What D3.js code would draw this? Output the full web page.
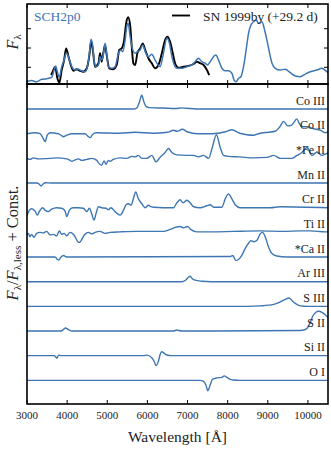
<!DOCTYPE html>
<html><head><meta charset="utf-8">
<script src="https://cdn.jsdelivr.net/npm/d3@7"></script>
<style>
body{margin:0;background:#fff}
svg{display:block}
text{font-family:"Liberation Serif","Times New Roman",serif;}
</style></head><body>
<svg id="c" width="331" height="450"></svg>
<script>
// ---------- DATA ----------
const xTicks = [3000,4000,5000,6000,7000,8000,9000,10000];
const topYTicks = [1,2,3];
const modelName = "SCH2p0";
const obsName = "SN 1999by (+29.2 d)";

// model spectrum (blue), [wavelength, flux]
const modelSpec = [[3000,0.25],[3115,0.31],[3240,0.25],[3365,0.38],[3490,0.41],[3615,0.48],[3675,0.86],[3715,1.07],[3755,0.77],[3805,0.48],[3865,1.03],[3925,1.38],[3975,1.73],[4015,1.64],[4070,1.29],[4140,0.95],[4200,0.86],[4280,0.90],[4360,0.82],[4445,0.77],[4505,1.03],[4555,1.73],[4595,2.45],[4640,2.07],[4670,1.38],[4720,1.03],[4780,1.12],[4820,1.55],[4860,1.38],[4900,1.64],[4945,2.24],[4985,1.73],[5030,1.03],[5110,0.95],[5195,1.03],[5280,1.73],[5335,1.90],[5385,1.81],[5445,2.41],[5485,3.10],[5520,3.28],[5570,2.59],[5625,1.98],[5695,1.73],[5750,1.81],[5820,1.90],[5885,2.16],[5945,1.81],[6025,1.55],[6110,1.67],[6190,1.38],[6315,1.03],[6400,1.73],[6485,2.50],[6550,2.24],[6610,1.55],[6690,1.03],[6733,0.95],[6858,0.95],[6983,1.03],[7108,1.12],[7190,1.29],[7272,1.47],[7357,1.29],[7440,1.21],[7500,1.12],[7564,1.29],[7646,1.55],[7706,1.64],[7772,1.38],[7855,0.95],[7938,0.82],[8020,0.82],[8105,0.69],[8160,0.34],[8210,0.25],[8270,0.43],[8330,0.51],[8395,1.03],[8460,1.90],[8520,2.76],[8580,3.19],[8645,3.36],[8710,3.45],[8770,3.28],[8853,3.36],[8920,2.93],[8978,2.41],[9045,1.73],[9105,1.21],[9185,0.95],[9310,0.86],[9435,0.90],[9560,0.72],[9685,0.55],[9810,0.51],[9935,0.65],[10060,0.77],[10225,0.86],[10350,0.95],[10475,0.77],[10530,0.72]];

// observed spectrum (black)
const obsSpec = [[3600,0.60],[3640,0.77],[3700,1.03],[3757,0.43],[3805,0.20],[3865,0.86],[3925,1.38],[3975,1.98],[4035,1.55],[4090,1.12],[4155,0.82],[4240,0.90],[4320,0.82],[4405,0.77],[4490,0.95],[4555,1.64],[4595,2.33],[4640,1.90],[4695,1.03],[4780,1.21],[4820,1.73],[4860,1.29],[4900,1.73],[4945,2.16],[4985,1.64],[5050,0.95],[5150,0.90],[5235,1.12],[5300,1.90],[5360,1.98],[5420,2.41],[5470,3.28],[5520,3.59],[5570,3.19],[5610,2.07],[5650,1.21],[5695,1.12],[5750,1.73],[5820,1.98],[5885,2.24],[5945,1.90],[6025,1.47],[6110,1.21],[6190,0.95],[6275,1.12],[6360,1.73],[6440,2.41],[6500,2.59],[6565,2.33],[6633,1.73],[6690,1.21],[6775,0.98],[6900,1.03],[7025,1.07],[7150,1.17],[7230,1.29],[7315,1.21],[7400,1.12],[7483,0.86],[7540,0.60]];

// ion contributions F/F_less - 1 (arbitrary units), top to bottom
const ionLabels = ["Co III","Co II","*Fe II","Mn II","Cr II","Ti II","*Ca II","Ar III","S III","S II","Si II","O I"];
const coIII = [[3000,0],[5650,0],[5735,1],[5800,7],[5860,14],[5915,7],[5970,2.5],[6050,1.5],[6400,1],[6700,0.5],[6860,1.2],[6960,0.8],[7300,0],[10500,0]];
const coII = [[3000,0],[3200,1],[3325,0],[3400,-4.5],[3450,-8],[3505,-1.5],[3575,1],[3780,0],[3865,-2],[3905,-3],[3990,-1.5],[4115,0],[4445,0],[4530,-3],[4570,-4],[4640,-0.5],[4720,1],[5300,0.5],[5700,1.5],[6150,0.5],[6500,1.5],[6650,3.5],[6735,2.5],[6870,4.5],[6990,2],[7250,0],[7600,0],[7950,2],[8105,4],[8300,0.5],[8480,-1],[8640,-1.5],[8770,0],[9000,1.5],[9185,2.5],[9300,7],[9395,12.5],[9495,8],[9580,8.5],[9660,12],[9720,15],[9790,10],[9850,7],[9975,7],[10140,5],[10310,3.5],[10430,1],[10515,2]];
const feII = [[3000,0],[3075,-1],[3160,0.5],[3280,-0.5],[3575,0],[3740,0.5],[3990,-0.5],[4070,-2],[4115,-3],[4200,-1.5],[4280,-0.5],[4365,-2],[4490,-1],[4615,0],[4740,-2],[4780,-4.5],[4860,-7],[4920,-2.5],[4970,-6],[5030,-2],[5070,-3],[5150,-1],[5320,0.5],[5485,0],[5610,2],[5695,1.5],[5775,3],[5860,0],[5985,0],[6110,3],[6215,-3.5],[6315,1],[6440,6],[6525,10],[6610,6],[6735,3.5],[6983,3],[7150,3],[7272,1.5],[7400,3],[7525,0],[7610,10],[7720,24],[7815,11],[7900,3],[8020,2],[8310,1.5],[8645,0.5],[8978,1],[9145,3],[9310,0],[9600,0],[9725,3],[9850,6],[9975,11],[10100,3],[10225,6.5],[10350,3],[10475,5],[10515,6]];
const mnII = [[3000,0],[3250,0],[3300,-1],[3350,-3],[3400,-1],[3460,0.3],[3600,0],[10500,0]];
const crII = [[2990,-9],[3060,-2.5],[3115,-1],[3200,-3.5],[3260,-7.5],[3305,-4],[3390,0],[3450,-2.5],[3530,-4],[3615,-1.5],[3740,0],[3865,-0.5],[3950,-3.5],[3990,-9],[4055,-2.5],[4140,0],[4280,0],[4405,-0.5],[4490,-4],[4555,-0.5],[4615,-6.5],[4670,-12.5],[4720,-6],[4780,1],[4860,0],[4970,-0.5],[5030,-2],[5090,0],[5195,-4],[5320,-7.5],[5405,-2.5],[5470,3],[5530,4],[5595,2.5],[5650,9],[5710,16],[5775,9],[5860,4],[5945,0],[6025,2.5],[6085,1],[6150,0.5],[6400,0],[6650,0],[6735,5],[6815,8],[6890,5],[6983,7.5],[7065,5],[7150,1],[7315,0],[7480,2],[7565,3],[7650,0.5],[7855,0.5],[7940,9],[8020,14],[8105,9],[8190,3],[8310,0],[9060,0],[9310,1],[10500,0]];
const tiII = [[2990,-3.5],[3035,-1],[3075,-4.5],[3115,-2],[3175,-5],[3240,-1],[3325,0],[3405,-0.5],[3490,1],[3575,-2.5],[3655,-2],[3740,-3.5],[3805,1.5],[3865,-2],[3925,-1],[3990,-3.5],[4070,0],[4155,-2],[4220,-6],[4280,-10],[4320,-10],[4365,-7],[4445,-2],[4530,0],[4615,-1.5],[4695,0],[4820,1],[4945,-1],[5070,0],[5320,0.5],[5735,1],[6150,1],[6400,1],[6565,3],[6690,5],[6815,6],[6900,4.5],[7000,6],[7080,3],[7230,0.5],[7600,0.5],[8145,1],[8810,1.5],[9395,1],[9810,1.5],[10060,1.5],[10430,0.5],[10520,0.5]];
const caII = [[3000,0],[3700,0],[3760,-2.5],[3790,-3],[3840,-0.5],[3905,1.5],[4000,0],[8050,0.5],[8130,1.5],[8200,-3.5],[8270,-2.5],[8355,2],[8435,8.5],[8520,14],[8580,16.5],[8650,15.5],[8730,17],[8810,23.5],[8870,25],[8935,20.5],[9020,10],[9105,3.5],[9225,1],[9475,0],[10500,0]];
const arIII = [[3000,0],[6850,0],[6950,1.5],[7020,4.5],[7065,5.5],[7120,3],[7190,1.5],[7350,0.5],[7600,0],[10500,0]];
const sIII = [[3000,0],[8500,0],[8810,0.5],[9145,2],[9310,4.5],[9435,7],[9530,8.5],[9600,6],[9685,3],[9810,0.5],[10000,0],[10500,0]];
const sII = [[3000,0],[3850,0],[3920,2],[3960,3],[4030,1.5],[4120,0],[6650,0],[6735,1],[6850,0],[9800,0.5],[9935,1.5],[10015,5],[10060,9],[10125,15.5],[10200,19],[10265,20],[10350,19],[10430,16.5],[10520,13]];
const siII = [[3000,0],[3680,0],[3720,-1.5],[3745,-2.5],[3770,-0.5],[3800,0.5],[3850,0],[5900,0],[5985,0.5],[6110,-2],[6170,-6],[6215,-10],[6275,-5.5],[6315,1],[6360,4],[6415,2.5],[6485,0.7],[6600,0],[10500,0]];
const oI = [[3000,0],[7300,0],[7400,-1],[7460,-5],[7505,-10.5],[7565,-4.5],[7620,1],[7730,2.5],[7855,3],[7915,4.5],[7980,3],[8065,1],[8145,0.3],[8300,0],[10500,0]];
const ionSeries = [coIII,coII,feII,mnII,crII,tiII,caII,arIII,sIII,sII,siII,oI];
const offsetStep = 25;

// ---------- LAYOUT ----------
const BLUE = "#3d76b3";
const L = 27, R = 328, topT = 4, topB = 84, botT = 84, botB = 404;
const svg = d3.select("#c");

const x = d3.scaleLinear().domain([3000,10500]).range([L,R]);
const yTop = d3.scaleLinear().domain([0.135,4.28]).range([topB,topT]);
const yBot = d3.scaleLinear().domain([-24,300.4]).range([botB,botT]);

const defs = svg.append("defs");
defs.append("clipPath").attr("id","clipT").append("rect").attr("x",L).attr("y",topT).attr("width",R-L).attr("height",topB-topT);
defs.append("clipPath").attr("id","clipB").append("rect").attr("x",L).attr("y",botT).attr("width",R-L).attr("height",botB-botT);

const curve = d3.curveMonotoneX;

// top panel
const lineT = d3.line().x(d=>x(d[0])).y(d=>yTop(d[1])).curve(curve);
const gT = svg.append("g").attr("clip-path","url(#clipT)");
gT.append("path").datum(obsSpec).attr("d",lineT).attr("fill","none").attr("stroke","#000").attr("stroke-width",1.9).attr("stroke-linejoin","round");
gT.append("path").datum(modelSpec).attr("d",lineT).attr("fill","none").attr("stroke",BLUE).attr("stroke-width",1.5).attr("stroke-linejoin","round");

// bottom panel
const gB = svg.append("g").attr("clip-path","url(#clipB)");
ionSeries.forEach((s,i)=>{
  const off = (ionSeries.length-1-i)*offsetStep;
  const ln = d3.line().x(d=>x(d[0])).y(d=>yBot(d[1]+off)).curve(curve);
  gB.append("path").datum(s).attr("d",ln).attr("fill","none").attr("stroke",BLUE).attr("stroke-width",1.4).attr("stroke-linejoin","round");
});
ionLabels.forEach((t,i)=>{
  const off = (ionSeries.length-1-i)*offsetStep;
  svg.append("text").attr("x",R-3).attr("y",yBot(off)-4.5).attr("text-anchor","end")
    .attr("font-size",12).attr("fill","#222").text(t);
});

// ticks
const tickG = svg.append("g").attr("stroke","#000").attr("stroke-width",1);
xTicks.forEach(v=>{
  const xx = x(v);
  tickG.append("line").attr("x1",xx).attr("x2",xx).attr("y1",topT).attr("y2",topT+4);
  tickG.append("line").attr("x1",xx).attr("x2",xx).attr("y1",topB).attr("y2",topB-4);
  tickG.append("line").attr("x1",xx).attr("x2",xx).attr("y1",botT).attr("y2",botT+4);
  tickG.append("line").attr("x1",xx).attr("x2",xx).attr("y1",botB).attr("y2",botB-4);
});
topYTicks.forEach(v=>{
  const yy = yTop(v);
  tickG.append("line").attr("x1",L).attr("x2",L+4).attr("y1",yy).attr("y2",yy);
  tickG.append("line").attr("x1",R).attr("x2",R-4).attr("y1",yy).attr("y2",yy);
});

// frames
svg.append("rect").attr("x",L).attr("y",topT).attr("width",R-L).attr("height",topB-topT).attr("fill","none").attr("stroke","#000").attr("stroke-width",1.6);
svg.append("rect").attr("x",L).attr("y",botT).attr("width",R-L).attr("height",botB-botT).attr("fill","none").attr("stroke","#000").attr("stroke-width",1.6);

// x tick labels
xTicks.forEach(v=>{
  svg.append("text").attr("x",x(v)).attr("y",419).attr("text-anchor","middle").attr("font-size",11).attr("fill","#222").text(v);
});

// x label
svg.append("text").attr("x",(L+R)/2).attr("y",442).attr("text-anchor","middle").attr("font-size",15.5).attr("fill","#222").text("Wavelength [Å]");

// top y label F_λ
const yl1 = svg.append("text").attr("transform","translate(18,42) rotate(-90)").attr("text-anchor","middle").attr("font-size",16).attr("fill","#222");
yl1.append("tspan").attr("font-style","italic").text("F");
yl1.append("tspan").attr("font-size",11).attr("dy",3).text("λ");

// bottom y label
const yl2 = svg.append("text").attr("transform","translate(18,243) rotate(-90)").attr("text-anchor","middle").attr("font-size",16.5).attr("fill","#222");
yl2.append("tspan").attr("font-style","italic").text("F");
yl2.append("tspan").attr("font-size",11).attr("dy",3).text("λ");
yl2.append("tspan").attr("dy",-3).text("/");
yl2.append("tspan").attr("font-style","italic").text("F");
yl2.append("tspan").attr("font-size",11).attr("dy",3).text("λ,less");
yl2.append("tspan").attr("dy",-3).text(" + Const.");

// legend
svg.append("text").attr("x",34).attr("y",21).attr("font-size",13.5).attr("fill",BLUE).text(modelName);
svg.append("line").attr("x1",172).attr("x2",190).attr("y1",15.5).attr("y2",15.5).attr("stroke","#000").attr("stroke-width",1.9);
svg.append("text").attr("x",203).attr("y",20.5).attr("font-size",13.5).attr("fill","#222").text(obsName);
</script>
</body></html>
